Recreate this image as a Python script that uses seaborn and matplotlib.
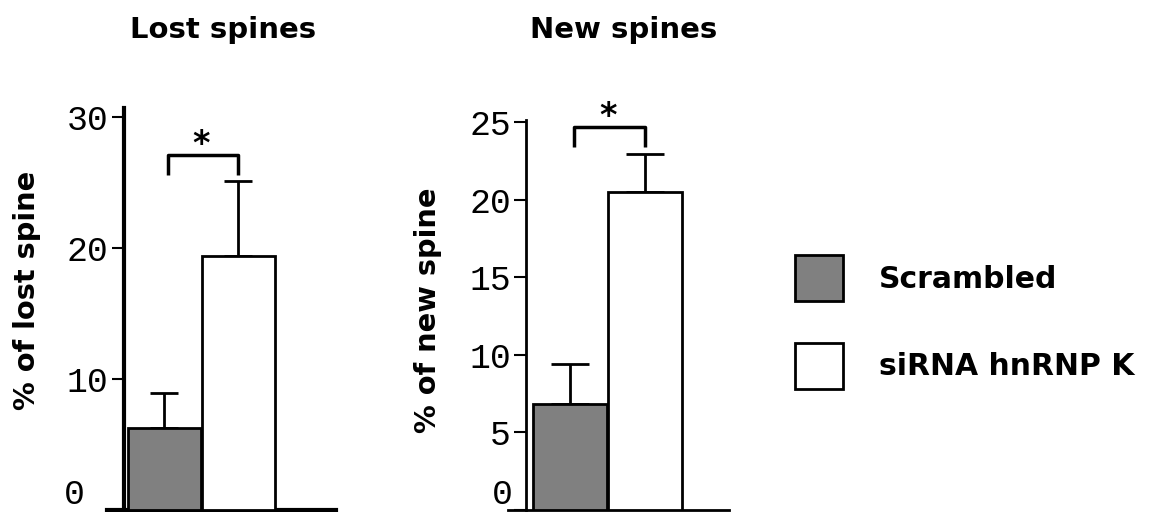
import numpy as np
import pandas as pd
import matplotlib
matplotlib.use("Agg")
import matplotlib.pyplot as plt
from matplotlib.patches import Patch
import matplotlib.transforms as mtransforms
import seaborn as sns

# ---- data ----
groups = ["Scrambled", "siRNA hnRNP K"]
lost_mean = [6.3, 19.4]
lost_sem = [2.6, 5.7]
new_mean = [6.85, 20.5]
new_sem = [2.6, 2.45]
lost_ticks = [0, 10, 20, 30]
new_ticks = [0, 5, 10, 15, 20, 25]
titles = ["Lost spines", "New spines"]
ylabels = ["% of lost spine", "% of new spine"]
colors = ["#808080", "#ffffff"]

sns.set_theme(style="white")
plt.rcParams["font.family"] = ["DejaVu Sans"]
plt.rcParams["text.color"] = "black"
plt.rcParams["ytick.color"] = "black"
plt.rcParams["ytick.labelcolor"] = "black"

TICK_FAMILY = "Liberation Mono"
TICK_SIZE = 25

W, H = 1158, 512
fig = plt.figure(figsize=(W / 100, H / 100), dpi=100)

def fx(px):
    return px / W

def fy(px):
    return px / H

ax1 = fig.add_axes([fx(107), fy(2), fx(336 - 107), fy(510 - 108)])
ax2 = fig.add_axes([fx(508), fy(2), fx(729 - 508), fy(510 - 120)])

def panel(ax, means, sems, ticks, ylim, xlim, spine_x, title, ylabel,
          capsize, lw, bracket, star_y, title_x, ylab_x, zero_off):
    df = pd.DataFrame({"group": groups, "value": means})
    sns.barplot(data=df, x="group", y="value", hue="group", palette=colors,
                order=groups, hue_order=groups, legend=False, errorbar=None,
                width=0.99, edgecolor="black", linewidth=2, ax=ax, zorder=3)
    ax.errorbar([0, 1], means, yerr=[np.zeros(len(sems)), sems], fmt="none",
                ecolor="black", elinewidth=2, capsize=capsize, capthick=2, zorder=2)
    ax.set_xlim(*xlim)
    ax.set_ylim(*ylim)
    ax.set_yticks(ticks)
    # the bottom "0" label is drawn lifted above the figure edge, as in the reference
    ax.set_yticklabels([""] + [str(t) for t in ticks[1:]])
    ax.tick_params(axis="y", direction="out", length=9, width=1.5,
                   color="black", labelcolor="black", labelsize=TICK_SIZE, pad=2,
                   left=True, labelfontfamily=TICK_FAMILY)
    off = mtransforms.ScaledTranslation(zero_off[0] / 100, zero_off[1] / 100,
                                        fig.dpi_scale_trans)
    ax.text(spine_x, ticks[0], str(ticks[0]), transform=ax.transData + off,
            ha="center", va="center", fontsize=TICK_SIZE, family=TICK_FAMILY,
            color="black", clip_on=False)
    ax.set_xticks([])
    ax.set_xlabel("")
    ax.set_ylabel("")
    for s in ["top", "right"]:
        ax.spines[s].set_visible(False)
    ax.spines["left"].set_position(("data", spine_x))
    ax.spines["left"].set_color("black")
    ax.spines["bottom"].set_color("black")
    ax.spines["left"].set_linewidth(lw)
    ax.spines["bottom"].set_linewidth(lw)
    ax.patch.set_alpha(0)
    # significance bracket
    top = max(m + s for m, s in zip(means, sems))
    b_top = top + bracket[0]
    b_leg = top + bracket[1]
    ax.plot([0.05, 0.05, 1.0, 1.0], [b_leg, b_top, b_top, b_leg], color="black",
            lw=2.5, solid_capstyle="butt", clip_on=False, zorder=4)
    ax.text(0.5, b_top + star_y, "*", ha="center", va="center", fontsize=24,
            fontweight="bold", color="black", clip_on=False)
    fig.text(title_x, fy(H - 30), title, ha="center", va="center",
             fontsize=21, fontweight="bold", color="black")
    fig.text(ylab_x[0], ylab_x[1], ylabel, ha="center", va="center",
             rotation=90, fontsize=20.8, fontweight="bold", color="black")

panel(ax1, lost_mean, lost_sem, lost_ticks, (0, 30.7),
      (-0.777, 2.318), -0.547, titles[0], ylabels[0], 10, 3,
      (2.0, 0.5), 0.8, fx(223), (fx(27), fy(H - 290)), (-50, 16))
panel(ax2, new_mean, new_sem, new_ticks, (0, 25.16),
      (-0.832, 2.12), -0.59, titles[1], ylabels[1], 14, 2,
      (1.75, 0.45), 0.7, fx(624), (fx(428), fy(H - 310)), (-24, 16))

handles = [Patch(facecolor=c, edgecolor="black", linewidth=2) for c in colors]
leg = fig.legend(handles, groups, loc="center left",
                 bbox_to_anchor=(fx(795), fy(H - 322)), frameon=False,
                 prop=dict(family="DejaVu Sans", weight="bold", size=21.5),
                 handlelength=1.6, handleheight=2.0, handletextpad=1.2,
                 labelspacing=1.4, borderpad=0, borderaxespad=0)
for t in leg.get_texts():
    t.set_color("black")

fig.savefig("out.png", dpi=100)
